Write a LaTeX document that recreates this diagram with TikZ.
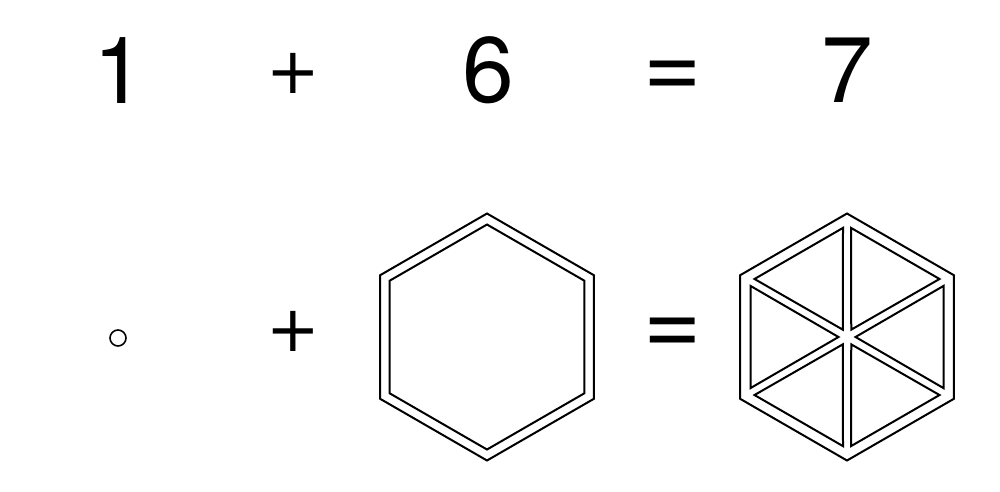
\documentclass[tikz,border=0pt]{standalone}
\usepackage{fontspec}
\setmainfont{TeX Gyre Heros}
\newfontfamily\symfont{DejaVu Sans}
\begin{document}
\begin{tikzpicture}[x=1pt,y=-1pt,
  digit/.style={inner sep=0pt, font=\fontsize{93}{93}\selectfont},
  plussign/.style={inner sep=0pt, font=\symfont\fontsize{64}{64}\selectfont},
  eqsign/.style={inner sep=0pt, font=\fontsize{100}{100}\selectfont},
  shapeline/.style={line width=2pt, line join=miter},
  dotmark/.style={draw, circle, minimum size=16pt, inner sep=0pt, line width=1.6pt}]
\useasboundingbox[fill=white] (0,0) rectangle (1000,491);
% top row
\node[digit] (one) at (119,70.5) {1};
\node[plussign] (plusA) at (293,73) {+};
\node[digit] (six) at (488,70.5) {6};
\node[eqsign] (eqA) at (672.5,79.5) {=};
\node[digit] (seven) at (847,70.5) {7};
% bottom row
\node[dotmark] (dot) at (118,338) {};
\node[plussign] (plusB) at (293,331.5) {+};
\node[eqsign] (eqB) at (673,337) {=};
\coordinate (hexA) at (487,337);
\coordinate (hexB) at (847,337);
\begin{scope}[shift={(hexA)}]
  \draw[shapeline] (30:123.5) \foreach \a in {90,150,...,330} { -- (\a:123.5) } -- cycle;
  \draw[shapeline] (30:112.5) \foreach \a in {90,150,...,330} { -- (\a:112.5) } -- cycle;
\end{scope}
\begin{scope}[shift={(hexB)}]
  \draw[shapeline] (30:123.5) \foreach \a in {90,150,...,330} { -- (\a:123.5) } -- cycle;
  \foreach \t in {0,60,...,300} {
    \draw[shapeline] (\t:8.5) -- (\t+27.9:109.2) -- (\t-27.9:109.2) -- cycle;
  }
\end{scope}
\end{tikzpicture}
\end{document}
